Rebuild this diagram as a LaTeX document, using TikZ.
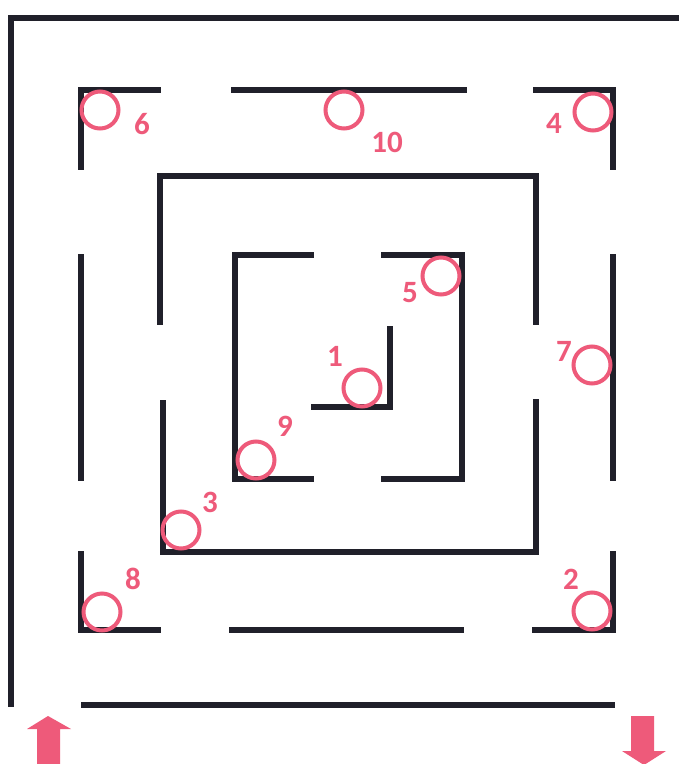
\documentclass[tikz,border=0pt]{standalone}
\usepackage{fontspec}
\setmainfont{Carlito}
\definecolor{pinkc}{RGB}{238,90,122}
\definecolor{wallc}{RGB}{32,32,42}
\begin{document}
\begin{tikzpicture}[x=1pt,y=-1pt,
  wall/.style={draw=wallc,line width=5.5pt,line cap=rect,line join=miter},
  ring/.style={circle,draw=pinkc,line width=4pt,minimum size=37pt,inner sep=0pt},
  num/.style={text=pinkc,font=\fontsize{31}{31}\selectfont\bfseries,inner sep=0pt},
  arrowfill/.style={fill=pinkc}]
\useasboundingbox[fill=white] (0,0) rectangle (679,764);
% outer wall
\draw[wall] (679,18) -- (11,18) -- (11,704);
\draw[wall] (84,705) -- (612,705);
% second ring
\draw[wall] (158,90) -- (81,90) -- (81,167);
\draw[wall] (234,90) -- (464,90);
\draw[wall] (536,90) -- (613,90) -- (613,167);
\draw[wall] (81,257) -- (81,478);
\draw[wall] (613,257) -- (613,478);
\draw[wall] (81,554) -- (81,630) -- (158,630);
\draw[wall] (232,630) -- (461,630);
\draw[wall] (535,630) -- (613,630) -- (613,554);
% third ring
\draw[wall] (160,322) -- (160,176) -- (536,176) -- (536,322);
\draw[wall] (163,403) -- (163,552) -- (536,552) -- (536,402);
% fourth ring
\draw[wall] (311,255) -- (235,255) -- (235,479) -- (311,479);
\draw[wall] (384,255) -- (462,255) -- (462,479) -- (384,479);
% centre
\draw[wall] (314,407) -- (390,407) -- (390,329);
% marks
\node[ring] (c1) at (362,388) {};
\node[ring] (c2) at (592,611) {};
\node[ring] (c3) at (181,530) {};
\node[ring] (c4) at (593,112) {};
\node[ring] (c5) at (441,276) {};
\node[ring] (c6) at (100,110) {};
\node[ring] (c7) at (592,365) {};
\node[ring] (c8) at (102,612) {};
\node[ring] (c9) at (256,460) {};
\node[ring] (c10) at (344,110) {};
\node[num] (n1) at (335,356) {1};
\node[num] (n2) at (571,579) {2};
\node[num] (n3) at (210,502) {3};
\node[num] (n4) at (554,123) {4};
\node[num] (n5) at (410,293) {5};
\node[num] (n6) at (142,124) {6};
\node[num] (n7) at (564,351) {7};
\node[num] (n8) at (133,579) {8};
\node[num] (n9) at (285,426) {9};
\node[num] (n10) at (387,142) {10};
% entry and exit arrows
\fill[arrowfill] (37,764) -- (37,729) -- (27,729) -- (48,716) -- (71,729) -- (60,729) -- (60,764) -- cycle;
\fill[arrowfill] (631,716) -- (654,716) -- (654,751) -- (666,751) -- (644,765) -- (622,751) -- (631,751) -- cycle;
\end{tikzpicture}
\end{document}
